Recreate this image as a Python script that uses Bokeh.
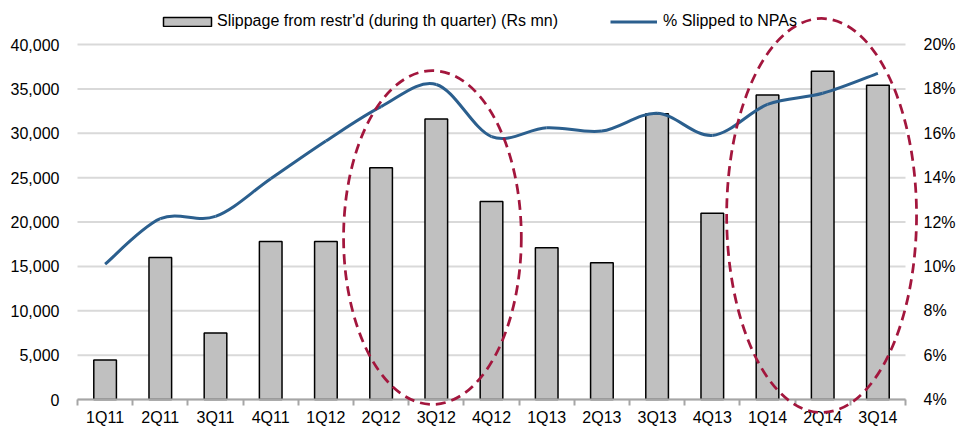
import numpy as np
from bokeh.plotting import figure
from bokeh.models import (Range1d, LinearAxis, FixedTicker, NumeralTickFormatter,
                          PrintfTickFormatter, Legend, LegendItem, ColumnDataSource)
from bokeh.embed import file_html
from bokeh.resources import INLINE

# ---------------- data ----------------
quarters = ["1Q11", "2Q11", "3Q11", "4Q11", "1Q12", "2Q12", "3Q12", "4Q12",
            "1Q13", "2Q13", "3Q13", "4Q13", "1Q14", "2Q14", "3Q14"]
slippage = [4450, 16000, 7500, 17800, 17800, 26100, 31600, 22300,
            17100, 15400, 32200, 21000, 34300, 37000, 35400]
pct_slipped = [10.1, 12.15, 12.25, 13.95, 15.65, 17.2, 18.2, 15.85,
               16.25, 16.1, 16.9, 15.9, 17.3, 17.8, 18.7]
left_ticks = [0, 5000, 10000, 15000, 20000, 25000, 30000, 35000, 40000]
right_ticks = [4, 6, 8, 10, 12, 14, 16, 18, 20]
bar_label = "Slippage from restr'd (during th quarter) (Rs mn)"
line_label = "% Slipped to NPAs"

# ---------------- layout / style ----------------
FONT = "Liberation Sans"
FS = "16px"
BAR_FILL = "#C0C0C0"
LINE_COL = "#2B5F8E"
ELL_COL = "#A3163D"
W, H = 956, 428
PLOT_L, PLOT_W = 77, 828      # plot area left edge / width in px
PLOT_T, PLOT_H = 44, 355      # plot area top edge / height in px

n = len(quarters)
xc = np.arange(n) + 0.5
ymax, pmin, pmax = left_ticks[-1], right_ticks[0], right_ticks[-1]

ux = n / PLOT_W
uy = ymax / PLOT_H
up = (pmax - pmin) / PLOT_H
bottom_px = H - PLOT_T - PLOT_H
x_range = Range1d(-PLOT_L * ux, n + (W - PLOT_L - PLOT_W) * ux)
y_range = Range1d(-bottom_px * uy, ymax + PLOT_T * uy)

p = figure(width=W, height=H, min_border=0, min_border_left=0, min_border_right=0,
           min_border_top=0, min_border_bottom=0,
           x_range=x_range, y_range=y_range,
           output_backend="svg", toolbar_location=None, tools="")
p.extra_y_ranges = {"pct": Range1d(pmin - bottom_px * up, pmax + PLOT_T * up)}
p.outline_line_color = None
p.background_fill_color = "white"
p.border_fill_color = "white"
p.grid.visible = False

# horizontal gridlines
p.segment(x0=0, x1=n, y0=left_ticks, y1=left_ticks,
          line_color="#D9D9D9", line_width=2, level="underlay")

# x axis
xa = p.xaxis[0]
xa.fixed_location = 0
xa.bounds = (0, n)
xa.ticker = FixedTicker(ticks=list(xc), minor_ticks=list(range(n + 1)))
xa.major_label_overrides = {float(x): q for x, q in zip(xc, quarters)}
xa.axis_line_color = "#A6A6A6"
xa.axis_line_width = 2
xa.major_tick_line_color = None
xa.major_tick_out = 6
xa.major_tick_in = 0
xa.minor_tick_line_color = "#A6A6A6"
xa.minor_tick_line_width = 2
xa.minor_tick_out = 6
xa.minor_tick_in = 0
xa.major_label_standoff = 3
xa.major_label_text_font = FONT
xa.major_label_text_font_size = FS
xa.major_label_text_color = "#000000"

# left axis
ya = p.yaxis[0]
ya.fixed_location = 0
ya.bounds = (0, ymax)
ya.ticker = FixedTicker(ticks=left_ticks)
ya.formatter = NumeralTickFormatter(format="0,0")
ya.axis_line_color = None
ya.major_tick_line_color = None
ya.minor_tick_line_color = None
ya.major_tick_out = 0
ya.major_tick_in = 0
ya.major_label_standoff = 18
ya.major_label_text_font = FONT
ya.major_label_text_font_size = FS
ya.major_label_text_color = "#000000"

# right axis
ra = LinearAxis(y_range_name="pct", ticker=FixedTicker(ticks=right_ticks),
                formatter=PrintfTickFormatter(format="%d%%"))
ra.fixed_location = n
ra.bounds = (pmin, pmax)
ra.axis_line_color = None
ra.major_tick_line_color = None
ra.minor_tick_line_color = None
ra.major_tick_out = 0
ra.major_tick_in = 0
ra.major_label_standoff = 18
ra.major_label_text_font = FONT
ra.major_label_text_font_size = FS
ra.major_label_text_color = "#000000"
p.add_layout(ra, "right")

# bars
bars = p.vbar(x=xc, top=slippage, width=0.41, bottom=0,
              fill_color=BAR_FILL, line_color="#000000", line_width=1.5)

# smoothed line (cubic Bezier segments through the data points)
px = np.array(xc, dtype=float)
py = np.array(pct_slipped, dtype=float)
p0x = np.r_[px[0], px[:-2]]; p0y = np.r_[py[0], py[:-2]]
p1x = px[:-1]; p1y = py[:-1]
p2x = px[1:]; p2y = py[1:]
p3x = np.r_[px[2:], px[-1]]; p3y = np.r_[py[2:], py[-1]]
bz = ColumnDataSource(dict(
    x0=p1x, y0=p1y, x1=p2x, y1=p2y,
    cx0=p1x + (p2x - p0x) / 6, cy0=p1y + (p2y - p0y) / 6,
    cx1=p2x - (p3x - p1x) / 6, cy1=p2y - (p3y - p1y) / 6))
curve = p.bezier(x0="x0", y0="y0", x1="x1", y1="y1", cx0="cx0", cy0="cy0",
                 cx1="cx1", cy1="cy1", source=bz, y_range_name="pct",
                 line_color=LINE_COL, line_width=3)

# dashed highlight ellipses (annotation shapes)
ellipses = [  # centre x (category units), centre y (Rs mn), half width, half height
    (6.43, 18250, 1.61, 18800),
    (13.48, 20730, 1.72, 22200),
]
for cx, cy, rx, ry in ellipses:
    p.ellipse(x=[cx], y=[cy], width=[2 * rx], height=[2 * ry],
              fill_color=None, line_color=ELL_COL, line_width=2.75,
              line_dash="10 6", level="overlay")

# legends
common = dict(padding=0, margin=0, border_line_color=None, background_fill_alpha=0,
              label_text_font=FONT, label_text_font_size=FS,
              label_text_color="#000000", orientation="horizontal")
leg_bottom = H - 30
leg1 = Legend(items=[LegendItem(label=bar_label, renderers=[bars])],
              location=(157, leg_bottom), glyph_width=60, glyph_height=11,
              label_standoff=0, **common)
leg2 = Legend(items=[LegendItem(label=line_label, renderers=[curve])],
              location=(610, leg_bottom), glyph_width=47, glyph_height=11,
              label_standoff=6, **common)
p.add_layout(leg1, "center")
p.add_layout(leg2, "center")

open("out.html", "w").write(file_html(p, INLINE))
